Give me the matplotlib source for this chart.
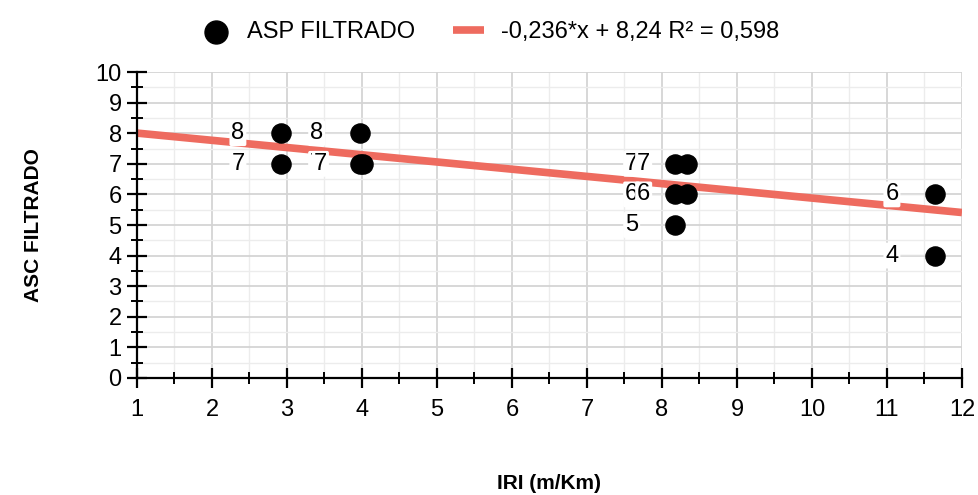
import matplotlib
matplotlib.use("Agg")
import matplotlib.pyplot as plt
from matplotlib.ticker import MultipleLocator
import numpy as np

plt.rcParams['font.family'] = ['Liberation Sans', 'DejaVu Sans']

# data
iri = [2.92, 2.92, 3.97, 3.97, 4.02, 8.17, 8.33, 8.17, 8.33, 8.17, 11.64, 11.64]
asc = [8, 7, 8, 7, 7, 7, 7, 6, 6, 5, 6, 4]
slope = -0.236
intercept = 8.24
trend_label = "-0,236*x + 8,24 R² = 0,598"
x_range = [1, 12]

fig = plt.figure(figsize=(9.79, 4.95), dpi=100)
ax = fig.add_axes([0.1399, 0.2364, 0.8427, 0.6181])

ax.set_xlim(1, 12)
ax.set_ylim(0, 10)
ax.xaxis.set_major_locator(MultipleLocator(1))
ax.xaxis.set_minor_locator(MultipleLocator(0.5))
ax.yaxis.set_major_locator(MultipleLocator(1))
ax.yaxis.set_minor_locator(MultipleLocator(0.5))
ax.grid(which='major', color='#d4d4d4', lw=1.3, zorder=0)
ax.grid(which='minor', color='#ececec', lw=1.0, zorder=0)
ax.set_axisbelow(True)

for s in ['top', 'right']:
    ax.spines[s].set_visible(False)
for s in ['left', 'bottom']:
    ax.spines[s].set_linewidth(1.6)
    ax.spines[s].set_color('black')

ax.tick_params(which='major', direction='inout', length=14, width=1.6, labelsize=17, pad=4)
ax.tick_params(which='minor', direction='inout', length=8, width=1.4)
ax.tick_params(axis='x', pad=8)

xs = np.array(x_range, dtype=float)
ax.plot(xs, slope * xs + intercept, color='#ee6b5f', lw=5.5, solid_capstyle='butt',
        zorder=2, label=trend_label)

ax.scatter(iri, asc, s=190, color='black', zorder=4, label='ASP FILTRADO')

for x, y in zip(iri, asc):
    ax.annotate(str(y), xy=(x, y), xytext=(-31, 0), textcoords='offset points',
                ha='center', va='center', fontsize=17, zorder=3,
                bbox=dict(boxstyle='round,pad=0.08', fc='white', ec='none'),
                arrowprops=dict(arrowstyle='-', color='#e0e0e0', lw=1.2,
                                shrinkA=0, shrinkB=8))

ax.set_xlabel('IRI (m/Km)', fontsize=15, fontweight='bold', labelpad=38)
ax.set_ylabel('ASC FILTRADO', fontsize=15, fontweight='bold', labelpad=38)

handles, labels = ax.get_legend_handles_labels()
fig.legend(handles[::-1], labels[::-1], loc='upper center', bbox_to_anchor=(0.5, 1.0),
           ncol=2, frameon=False, fontsize=17, handlelength=1.3, columnspacing=1.6,
           handletextpad=0.7, markerscale=1.2)

fig.savefig('out.png', dpi=100)
